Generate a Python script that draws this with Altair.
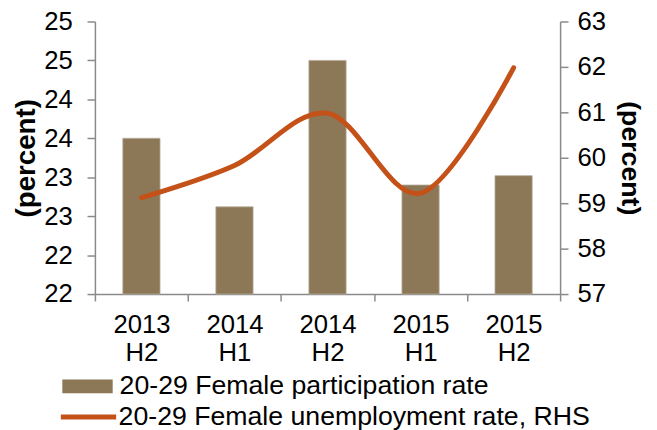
import altair as alt
import pandas as pd

periods = ["2013 H2", "2014 H1", "2014 H2", "2015 H1", "2015 H2"]
participation = [23.5, 22.62, 24.5, 22.9, 23.02]
unemployment = [59.12, 59.83, 60.98, 59.22, 61.98]
left_ticks = [21.5, 22.0, 22.5, 23.0, 23.5, 24.0, 24.5, 25.0]
right_ticks = [57, 58, 59, 60, 61, 62, 63]
bar_label = "20-29 Female participation rate"
line_label = "20-29 Female unemployment rate, RHS"
axis_title = "(percent)"

df = pd.DataFrame({"period": periods, "participation": participation,
                   "unemployment": unemployment,
                   "bar_series": [bar_label] * len(periods),
                   "line_series": [line_label] * len(periods)})

FONT = "Liberation Sans"
AX = "#8a8a8a"
BAR = "#8C7757"
LINE = "#C45218"

x = alt.X("period:N", sort=periods, title=None,
          scale=alt.Scale(paddingInner=0, paddingOuter=0),
          axis=alt.Axis(labelExpr="split(datum.label, ' ')", labelAngle=0,
                        tickBand="extent", labelPadding=11, labelLineHeight=28,
                        tickSize=7))

bars = alt.Chart(df).mark_bar(stroke="#b8ad9c", strokeWidth=0.8,
                              width=alt.RelativeBandSize(0.4)).encode(
    x=x,
    y=alt.Y("participation:Q",
            scale=alt.Scale(domain=[21.5, 25], zero=False, nice=False),
            axis=alt.Axis(values=left_ticks, format=".0f", title=axis_title,
                          orient="left", labelPadding=15, titlePadding=3)),
    y2=alt.Y2(datum=21.5),
    fill=alt.Fill("bar_series:N",
                  scale=alt.Scale(domain=[bar_label], range=[BAR]),
                  legend=alt.Legend(orient="none", legendX=-33, legendY=344,
                                    symbolType="M-1,-0.275L1,-0.275L1,0.275L-1,0.275Z",
                                    symbolSize=2601, symbolStrokeWidth=0,
                                    labelOffset=7, title=None)),
)

line = alt.Chart(df).mark_line(interpolate="cardinal", strokeWidth=5,
                               strokeCap="round").encode(
    x=x,
    y=alt.Y("unemployment:Q",
            scale=alt.Scale(domain=[57, 63], zero=False, nice=False),
            axis=alt.Axis(values=right_ticks, format="d", title=axis_title,
                          orient="right", labelPadding=9, titlePadding=10,
                          titleFontSize=27)),
    stroke=alt.Stroke("line_series:N",
                      scale=alt.Scale(domain=[line_label], range=[LINE]),
                      legend=alt.Legend(orient="none", legendX=-37, legendY=370,
                                        symbolType="stroke", symbolSize=3136,
                                        symbolStrokeWidth=5,
                                        labelOffset=0, title=None)),
)

chart = alt.layer(bars, line).resolve_scale(y="independent").properties(
    width=471, height=276,
    autosize=alt.AutoSizeParams(type="none"),
    padding={"left": 88, "top": 11, "right": 90, "bottom": 135},
).configure_view(stroke=None).configure_axis(
    grid=False, domainColor=AX, domainWidth=1.5, tickColor=AX, tickWidth=1.5,
    tickSize=8, labelFont=FONT, labelFontSize=26, labelColor="black",
    titleFont=FONT, titleFontSize=28, titleFontWeight="bold", titleColor="black",
).configure_legend(
    labelFont=FONT, labelFontSize=27, labelColor="black", padding=0, offset=0,
    labelLimit=600,
)

chart.save("out.html", embed_options={"renderer": "svg", "actions": False})
